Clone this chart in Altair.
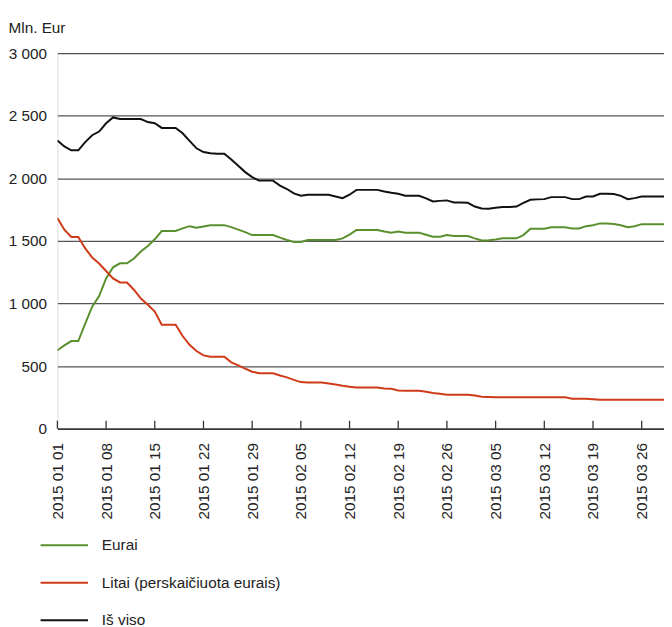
import altair as alt
import pandas as pd

# ---- data -------------------------------------------------------------
dates = pd.date_range("2015-01-01", periods=89, freq="D").strftime("%Y-%m-%d").tolist()

eurai = [626, 665, 700, 700, 840, 975, 1060, 1200, 1289, 1321,
         1321, 1360, 1415, 1460, 1513, 1579, 1579, 1579, 1600, 1618,
         1605, 1615, 1626, 1626, 1626, 1610, 1590, 1570, 1547, 1547,
         1547, 1547, 1526, 1508, 1492, 1492, 1508, 1508, 1508, 1508,
         1508, 1520, 1550, 1587, 1587, 1587, 1587, 1575, 1566, 1575,
         1566, 1566, 1566, 1550, 1534, 1534, 1547, 1539, 1539, 1539,
         1520, 1503, 1505, 1512, 1521, 1521, 1521, 1547, 1597, 1597,
         1597, 1610, 1610, 1610, 1600, 1600, 1618, 1626, 1640, 1640,
         1635, 1625, 1610, 1618, 1634, 1634, 1634, 1634, 1634]

litai = [1684, 1590, 1532, 1532, 1440, 1368, 1320, 1260, 1200, 1168,
         1168, 1110, 1040, 990, 935, 830, 830, 830, 740, 670,
         620, 585, 574, 574, 574, 530, 505, 480, 455, 442,
         442, 442, 425, 410, 390, 372, 368, 368, 368, 360,
         352, 342, 335, 329, 329, 329, 329, 321, 318, 305,
         303, 303, 303, 295, 285, 279, 271, 271, 271, 271,
         265, 255, 252, 250, 250, 250, 250, 250, 250, 250,
         250, 250, 250, 250, 239, 239, 239, 235, 231, 231,
         231, 231, 231, 231, 231, 231, 231, 231, 231]

is_viso = [2303, 2255, 2224, 2224, 2290, 2345, 2374, 2440, 2487, 2474,
           2474, 2474, 2474, 2450, 2440, 2403, 2403, 2403, 2360, 2300,
           2240, 2210, 2200, 2197, 2197, 2150, 2100, 2050, 2010, 1982,
           1982, 1982, 1942, 1915, 1880, 1861, 1869, 1869, 1869, 1869,
           1855, 1842, 1869, 1908, 1908, 1908, 1908, 1895, 1885, 1877,
           1861, 1861, 1861, 1840, 1816, 1820, 1824, 1808, 1808, 1805,
           1775, 1760, 1758, 1765, 1771, 1771, 1775, 1805, 1829, 1832,
           1834, 1850, 1850, 1850, 1834, 1834, 1855, 1855, 1877, 1877,
           1875, 1860, 1834, 1842, 1855, 1855, 1855, 1855, 1855]

series_names = ["Eurai", "Litai (perskaičiuota eurais)", "Iš viso"]
series_colors = ["#5a8f2e", "#cf3b18", "#111111"]
tick_dates = ["2015-01-01", "2015-01-08", "2015-01-15", "2015-01-22", "2015-01-29",
              "2015-02-05", "2015-02-12", "2015-02-19", "2015-02-26", "2015-03-05",
              "2015-03-12", "2015-03-19", "2015-03-26"]
y_ticks = [0, 500, 1000, 1500, 2000, 2500, 3000]
y_title = "Mln. Eur"

rows = []
for name, vals in zip(series_names, [eurai, litai, is_viso]):
    for d, v in zip(dates, vals):
        rows.append({"date": d, "value": v, "series": name})
df = pd.DataFrame(rows)
ticks_df = pd.DataFrame({"date": tick_dates})

FONT = "Liberation Sans, Arial, sans-serif"
TXT = "#222222"


def dt(s):
    y, m, d = (int(p) for p in s.split("-"))
    return alt.DateTime(year=y, month=m, date=d, utc=True)


x_scale = alt.Scale(type="utc",
                    domain=[dt("2015-01-01"),
                            alt.DateTime(year=2015, month=3, date=29, hours=5, utc=True)])

lines = alt.Chart(df).mark_line(strokeWidth=2, clip=True).encode(
    x=alt.X("date:T", scale=x_scale,
            axis=alt.Axis(values=[dt(s) for s in tick_dates], format="%Y %m %d",
                          labelAngle=270, labelPadding=14, ticks=False,
                          domainColor="#333333", domainWidth=1.5, grid=False,
                          labelFont=FONT, labelFontSize=15.5, labelColor=TXT,
                          title=None)),
    y=alt.Y("value:Q", scale=alt.Scale(domain=[0, 3000], nice=False),
            axis=alt.Axis(values=y_ticks,
                          labelExpr="replace(format(datum.value, ','), ',', ' ')",
                          grid=True, gridColor="#555555", gridWidth=1.3,
                          domain=False, ticks=False, labelPadding=11,
                          labelFont=FONT, labelFontSize=15.5, labelColor=TXT,
                          title=y_title, titleAngle=0, titleX=-50, titleY=-21,
                          titleAlign="left", titleBaseline="alphabetic",
                          titleFont=FONT, titleFontSize=15.5, titleFontWeight="normal",
                          titleColor=TXT)),
    color=alt.Color("series:N",
                    scale=alt.Scale(domain=series_names, range=series_colors),
                    legend=alt.Legend(title=None, orient="none", legendX=-18, legendY=473,
                                      direction="vertical", symbolType="stroke",
                                      symbolSize=2304, symbolStrokeWidth=2,
                                      labelFont=FONT, labelFontSize=15.5,
                                      labelColor=TXT, labelOffset=13,
                                      labelLimit=400, rowPadding=4)),
)

ticks = alt.Chart(ticks_df).mark_rule(color="#333333", strokeWidth=1.3).encode(
    x=alt.X("date:T", scale=x_scale),
    y=alt.value(380), y2=alt.value(372),
)

chart = alt.layer(lines, ticks).properties(
    width=614, height=380,
    autosize=alt.AutoSizeParams(type="none"),
    padding={"left": 50, "top": 42, "right": 0, "bottom": 197},
).configure_view(
    fill="#e5ebe9", stroke=None
).configure(background="white")

chart.save("out.html", embed_options={"renderer": "svg", "actions": False})
